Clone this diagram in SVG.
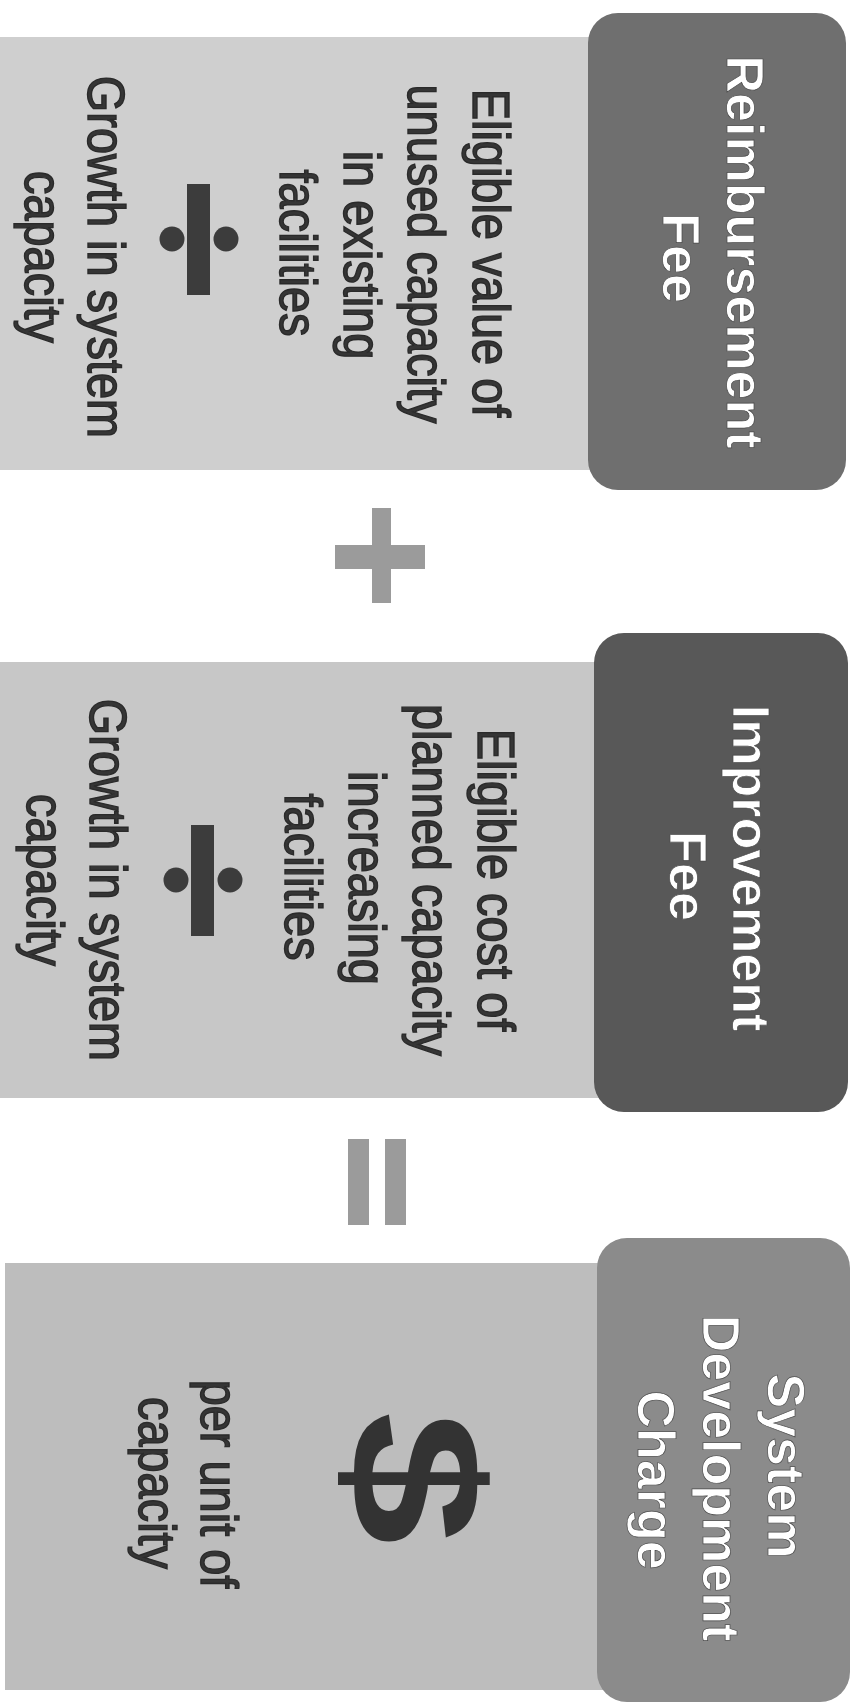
<svg xmlns="http://www.w3.org/2000/svg" width="854" height="1706" viewBox="0 0 854 1706">
<style>
.hd{font-family:"Liberation Sans",Arial,sans-serif;font-weight:bold;font-size:52px;fill:#ffffff;text-anchor:middle;stroke:#4a4a4a;stroke-width:0.7px}
.bd{font-family:"Liberation Sans",Arial,sans-serif;font-size:51px;fill:#353535;text-anchor:middle;stroke:#2a2a2a;stroke-width:1.4px}
.dv{fill:#3c3c3c}
.op{fill:#9b9b9b}
</style>
<rect width="854" height="1706" fill="#ffffff"/>

<g id="reimbursement-body">
<rect x="0" y="37" width="600" height="433" fill="#cfcfcf"/>
<text class="bd" transform="translate(473,253) rotate(90) scale(0.92,1)">Eligible value of</text>
<text class="bd" transform="translate(408,254) rotate(90) scale(0.92,1)">unused capacity</text>
<text class="bd" transform="translate(344,255) rotate(90) scale(0.92,1)">in existing</text>
<text class="bd" transform="translate(280,253) rotate(90) scale(0.92,1)">facilities</text>
<rect class="dv" x="187" y="184" width="23" height="111"/>
<circle class="dv" cx="172" cy="239" r="12.5"/>
<circle class="dv" cx="226" cy="239" r="12.5"/>
<text class="bd" transform="translate(88,257) rotate(90) scale(0.92,1)">Growth in system</text>
<text class="bd" transform="translate(25,257) rotate(90) scale(0.92,1)">capacity</text>
</g>
<g id="reimbursement-header">
<rect x="588" y="13" width="258" height="477" rx="30" fill="#6f6f6f"/>
<text class="hd" transform="translate(727,252) rotate(90)">Reimbursement</text>
<text class="hd" transform="translate(663,258) rotate(90)">Fee</text>
</g>

<g id="plus">
<rect class="op" x="372" y="508" width="19" height="95"/>
<rect class="op" x="335" y="545" width="90" height="24"/>
</g>

<g id="improvement-body">
<rect x="0" y="662" width="606" height="436" fill="#c7c7c7"/>
<text class="bd" transform="translate(478,880) rotate(90) scale(0.92,1)">Eligible cost of</text>
<text class="bd" transform="translate(413,880) rotate(90) scale(0.92,1)">planned capacity</text>
<text class="bd" transform="translate(349,878) rotate(90) scale(0.92,1)">increasing</text>
<text class="bd" transform="translate(285,877) rotate(90) scale(0.92,1)">facilities</text>
<rect class="dv" x="191" y="825" width="23" height="111"/>
<circle class="dv" cx="176" cy="880" r="12.5"/>
<circle class="dv" cx="230" cy="880" r="12.5"/>
<text class="bd" transform="translate(90,880) rotate(90) scale(0.92,1)">Growth in system</text>
<text class="bd" transform="translate(27,880) rotate(90) scale(0.92,1)">capacity</text>
</g>
<g id="improvement-header">
<rect x="594" y="633" width="254" height="479" rx="30" fill="#585858"/>
<text class="hd" transform="translate(733,868) rotate(90)">Improvement</text>
<text class="hd" transform="translate(670,876) rotate(90)">Fee</text>
</g>

<g id="equals">
<rect class="op" x="348" y="1139" width="21" height="86"/>
<rect class="op" x="385" y="1139" width="21" height="86"/>
</g>

<g id="sdc-body">
<rect x="5" y="1263" width="600" height="427" fill="#bdbdbd"/>
<text transform="translate(352,1478) rotate(90) scale(1.3,1)" font-family="Liberation Sans, Arial, sans-serif" font-weight="bold" font-size="185" fill="#333333" text-anchor="middle">$</text>
<text class="bd" transform="translate(201,1484) rotate(90) scale(0.92,1)">per unit of</text>
<text class="bd" transform="translate(139,1483) rotate(90) scale(0.92,1)">capacity</text>
</g>
<g id="sdc-header">
<rect x="597" y="1238" width="253" height="464" rx="30" fill="#8b8b8b"/>
<text class="hd" transform="translate(768,1466) rotate(90)">System</text>
<text class="hd" transform="translate(703,1478) rotate(90)">Development</text>
<text class="hd" transform="translate(638,1480) rotate(90)">Charge</text>
</g>
</svg>
